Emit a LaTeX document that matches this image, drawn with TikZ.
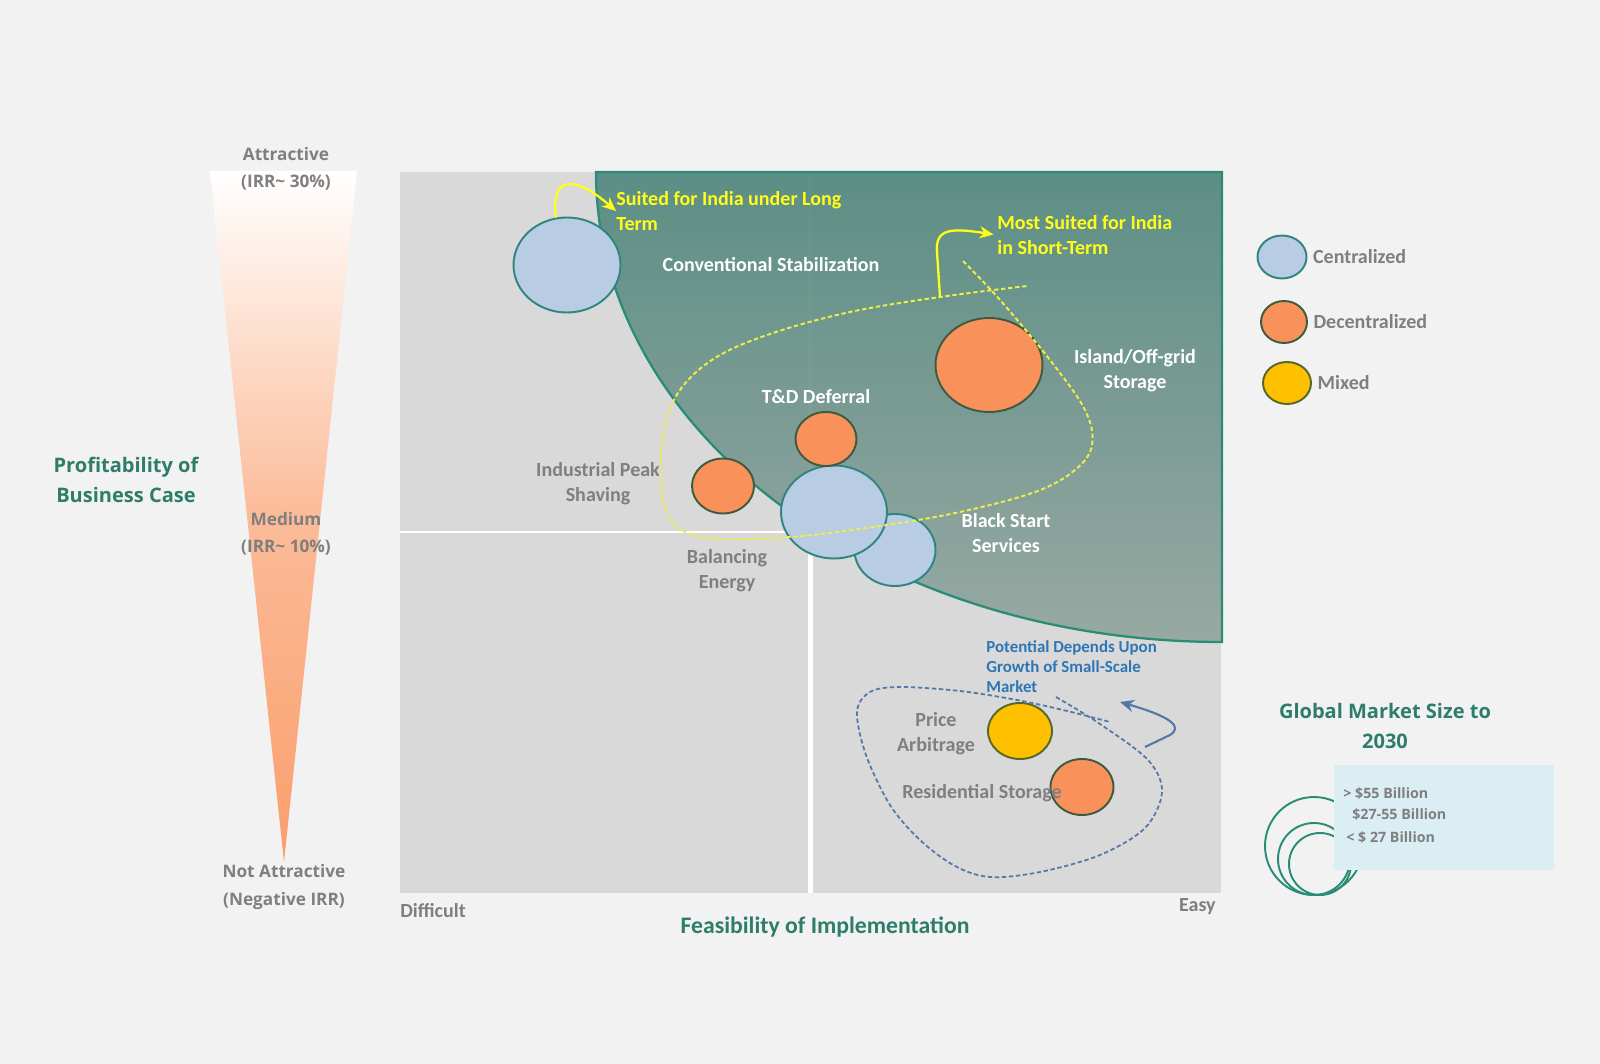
\documentclass[tikz,border=0pt]{standalone}
\usepackage{fontspec}
\setmainfont{Carlito}
\newfontfamily\osans{Open Sans}
\usetikzlibrary{shapes.geometric,arrows.meta}

\definecolor{bgcol}{HTML}{F2F2F2}
\definecolor{plotgray}{HTML}{D9D9D9}
\definecolor{grntop}{HTML}{558A80}
\definecolor{grnbot}{HTML}{94A6A0}
\definecolor{grnline}{HTML}{2A8C76}
\definecolor{bubblue}{HTML}{B8CCE4}
\definecolor{bubbline}{HTML}{2F8580}
\definecolor{buborange}{HTML}{F8915A}
\definecolor{buboline}{HTML}{3F5B3F}
\definecolor{bubyellow}{HTML}{FFC000}
\definecolor{bubyline}{HTML}{55692E}
\definecolor{txtgray}{HTML}{7F7F7F}
\definecolor{titlegreen}{HTML}{2E7D6B}
\definecolor{hiyellow}{HTML}{FFFF1A}
\definecolor{loopyellow}{HTML}{EEEE4A}
\definecolor{annblue}{HTML}{2E75B6}
\definecolor{loopblue}{HTML}{5577A8}
\definecolor{triorange}{HTML}{FA9E6C}
\definecolor{boxblue}{HTML}{DAEEF3}

\tikzset{
  bubble/.style={ellipse, draw, line width=1.1pt, inner sep=0pt},
  bsize/.style 2 args={minimum width=#1*0.02cm, minimum height=#2*0.02cm},
  central/.style={bubble, fill=bubblue, draw=bubbline},
  decentral/.style={bubble, fill=buborange, draw=buboline},
  mixed/.style={bubble, fill=bubyellow, draw=bubyline},
  inlbl/.style={font=\bfseries\fontsize{11.4}{14.2}\selectfont, align=center, text=white, inner sep=0pt},
  outlbl/.style={inlbl, text=txtgray},
  hilbl/.style={inlbl, text=hiyellow, align=left},
  bluelbl/.style={font=\bfseries\fontsize{9.6}{11.4}\selectfont, text=annblue, align=left, inner sep=0pt},
  scalelbl/.style={font=\osans\bfseries\fontsize{9.8}{15.4}\selectfont, text=txtgray, align=center, inner sep=0pt},
  titlelbl/.style={font=\osans\bfseries\fontsize{11.4}{16.8}\selectfont, text=titlegreen, align=center, inner sep=0pt},
  mktlbl/.style={font=\osans\bfseries\fontsize{8.1}{9.5}\selectfont, text=txtgray, inner sep=0pt},
  hiarrow/.style={->, draw=hiyellow, line width=1.3pt},
  annarrow/.style={->, draw=loopblue, line width=1.2pt},
  yloop/.style={draw=loopyellow, line width=1.1pt, dash pattern=on 2.5pt off 1.5pt},
  bloop/.style={draw=loopblue, line width=1pt, dash pattern=on 2.5pt off 1.5pt},
  mktring/.style={draw=grnline, line width=1.1pt}
}

\begin{document}
\begin{tikzpicture}[x=0.02cm, y=-0.02cm, >={Stealth[length=8pt,width=7pt]}]
  % Fondo
  \fill[bgcol] (0,0) rectangle (1600,1064);
  \useasboundingbox (0,0) rectangle (1600,1064);

  % Escala de rentabilidad
  \shade[top color=white, bottom color=triorange, middle color=triorange!70!white]
    (210,171) -- (357,171) -- (284,862) -- cycle;
  \node[scalelbl] (attr) at (286,169) {Attractive\\(IRR\textasciitilde{} 30\%)};
  \node[scalelbl] (med) at (286,534) {Medium\\(IRR\textasciitilde{} 10\%)};
  \node[scalelbl] (natt) at (284,887) {Not Attractive\\(Negative IRR)};
  \node[titlelbl] (prof) at (126,480) {Profitability of\\Business Case};

  % Cuadrantes
  \fill[plotgray] (400,172) rectangle (1221,893);
  \draw[white, line width=0.1cm] (810.5,172) -- (810.5,893);
  \draw[white, line width=0.04cm] (400,532) -- (1221,532);

  % Zona verde
  \shade[top color=grntop, bottom color=grnbot, fill opacity=0.94]
    (1222,172) -- (596,172) arc[start angle=180, end angle=90, x radius=626, y radius=470] -- cycle;
  \draw[grnline, line width=1.3pt]
    (1222,172) -- (596,172) arc[start angle=180, end angle=90, x radius=626, y radius=470] -- cycle;

  % Burbujas
  \node[central, bsize={107}{95}] (conv) at (567,265) {};
  \node[decentral, bsize={62}{55}] (ips) at (723,486) {};
  \node[decentral, bsize={107}{94}] (isl) at (989,365) {};
  \node[central, bsize={81}{72}] (blk) at (895,550) {};
  \node[central, bsize={106}{93}] (bal) at (834,512) {};
  \node[decentral, bsize={61}{54}] (tdd) at (826,439) {};
  \node[mixed, bsize={64}{56}] (prc) at (1020,731) {};
  \node[decentral, bsize={63}{56}] (res) at (1082,787) {};

  % Etiquetas
  \node[inlbl] (convtxt) at (771,265) {Conventional Stabilization};
  \node[inlbl] (tddtxt) at (816,397) {T\&D Deferral};
  \node[inlbl] (isltxt) at (1135,371) {Island/Off-grid\\Storage};
  \node[inlbl] (blktxt) at (1006,533) {Black Start\\Services};
  \node[outlbl] (ipstxt) at (598,484) {Industrial Peak\\Shaving};
  \node[outlbl] (baltxt) at (727,571) {Balancing\\Energy};
  \node[outlbl] (prctxt) at (936,734) {Price\\Arbitrage};
  \node[outlbl] (restxt) at (982,793) {Residential Storage};

  % Lazo amarillo
  \draw[yloop] plot[smooth, tension=0.6] coordinates {(963,261) (1000,300) (1050,360)
    (1085,410) (1092,445) (1075,470) (1035,492) (960,512) (880,526) (790,537) (710,538)
    (672,522) (661,480) (664,430) (680,390) (715,358) (770,334) (850,312) (940,297) (1027,286)};
  \coordinate (sk) at (940,297);
  \node[hilbl, anchor=west] (hlong) at (616,211) {Suited for India under Long\\Term};
  \node[hilbl, anchor=west] (hshort) at (997,235) {Most Suited for India\\in Short-Term};
  \draw[hiarrow] (conv.103) .. controls (550,174) and (576,176) .. (hlong.west);
  \draw[hiarrow, shorten >=2pt] (sk) -- (937,252) .. controls (935,228) and (952,228) .. (hshort.west);

  % Lazo azul
  \draw[bloop] plot[smooth, tension=0.55] coordinates {(1056,697) (1100,724) (1148,760)
    (1162,792) (1145,828) (1100,855) (1040,872) (990,877) (955,866) (920,840) (890,805)
    (866,755) (857,712) (870,692) (900,687) (960,691) (1017,700) (1063,710) (1110,722)};
  \node[bluelbl, anchor=west] (pot) at (986,667) {Potential Depends Upon\\Growth of Small-Scale\\Market};
  \coordinate (pa) at (1145,747);
  \coordinate (pb) at (1120,702);
  \draw[annarrow] (pa) -- (1170,735) .. controls (1183,727) and (1172,717) .. (pb);

  % Leyenda
  \node[central, bsize={49}{43}] (lgc) at (1282,257) {};
  \node[decentral, bsize={46}{42}] (lgd) at (1284,322) {};
  \node[mixed, bsize={48}{42}] (lgm) at (1287,383) {};
  \node[outlbl, anchor=west, xshift=3pt] (lgctxt) at (lgc.east) {Centralized};
  \node[outlbl, anchor=west, xshift=3pt] (lgdtxt) at (lgd.east) {Decentralized};
  \node[outlbl, anchor=west, xshift=3pt] (lgmtxt) at (lgm.east) {Mixed};

  % Tamano de mercado
  \node[titlelbl] (gms) at (1385,726) {Global Market Size to\\2030};
  \draw[mktring] (1314,846) circle (49);
  \draw[mktring] (1314,859) circle (36);
  \draw[mktring] (1320,864) circle (31);
  \fill[boxblue] (1334,765) rectangle (1554,870);
  \node[mktlbl, anchor=west] (b1) at (1343,794) {> \$55 Billion};
  \node[mktlbl, anchor=west] (b2) at (1352,815) {\$27-55 Billion};
  \node[mktlbl, anchor=west] (b3) at (1346,838) {< \$ 27 Billion};

  % Eje horizontal
  \node[outlbl, anchor=west] (diff) at (400,911) {Difficult};
  \node[outlbl, anchor=east] (easy) at (1216,907) {Easy};
  \node[inlbl, text=titlegreen, font=\bfseries\fontsize{13.5}{16}\selectfont] (feas) at (825,927) {Feasibility of Implementation};
\end{tikzpicture}
\end{document}
